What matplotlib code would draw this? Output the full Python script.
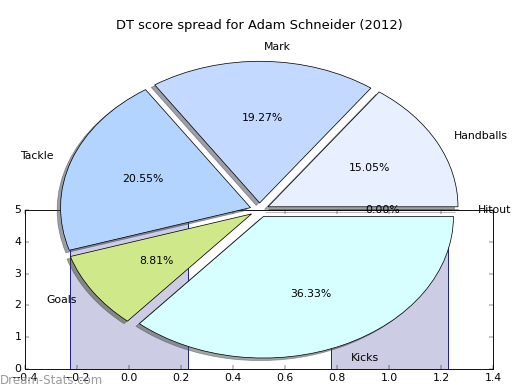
import matplotlib
matplotlib.use("Agg")
import matplotlib.pyplot as plt

# Pie data
labels = ["Handballs", "Mark", "Tackle", "Goals", "Kicks", "Hitout"]
shares = [15.05, 19.27, 20.55, 8.81, 36.33, 0.00]
colors = ["#e8f0ff", "#c4d9ff", "#b3d4ff", "#cfe98a", "#d7ffff", "#ffe0e0"]
explode_amt = [0.05, 0.05, 0.05, 0.05, 0.05, 0.05]

# Background bar data
bar_x = [0.0, 1.0]
bar_heights = [5.0, 4.5]

plt.style.use("classic")
fig = plt.figure(figsize=(8, 6), dpi=65, facecolor="white")

ax_bar = fig.add_axes([25/520, 21/390, 468/520, 159/390])
ax_bar.bar(bar_x, bar_heights, width=0.45, align="center",
           color="#ccccE4", edgecolor="#10108a", linewidth=1.0)
ax_bar.set_xlim(-0.4, 1.4)
ax_bar.set_ylim(0, 5)
ax_bar.set_xticks([-0.4, -0.2, 0.0, 0.2, 0.4, 0.6, 0.8, 1.0, 1.2, 1.4])
ax_bar.set_yticks([0, 1, 2, 3, 4, 5])
ax_bar.tick_params(labelsize=12)

ax_pie = fig.add_axes([22/520, 3/390, 475/520, 354/390])
patches, texts, autotexts = ax_pie.pie(
    shares, labels=labels, colors=colors, explode=explode_amt,
    autopct="%1.2f%%", shadow=True,
    textprops={"fontsize": 12},
    wedgeprops={"linewidth": 0.8, "edgecolor": "black"})
ax_pie.set_aspect("auto")
ax_pie.set_xlim(-1.25, 1.25)
ax_pie.set_ylim(-1.25, 1.25)
ax_pie.set_title("DT score spread for Adam Schneider (2012)", fontsize=14.4,
                 pad=4)

fig.text(0.0, 0.008, "Dream-Stats.com", color="#909090", fontsize=13,
         ha="left", va="bottom", alpha=0.9)

fig.savefig("out.png", dpi=65, facecolor="white")
